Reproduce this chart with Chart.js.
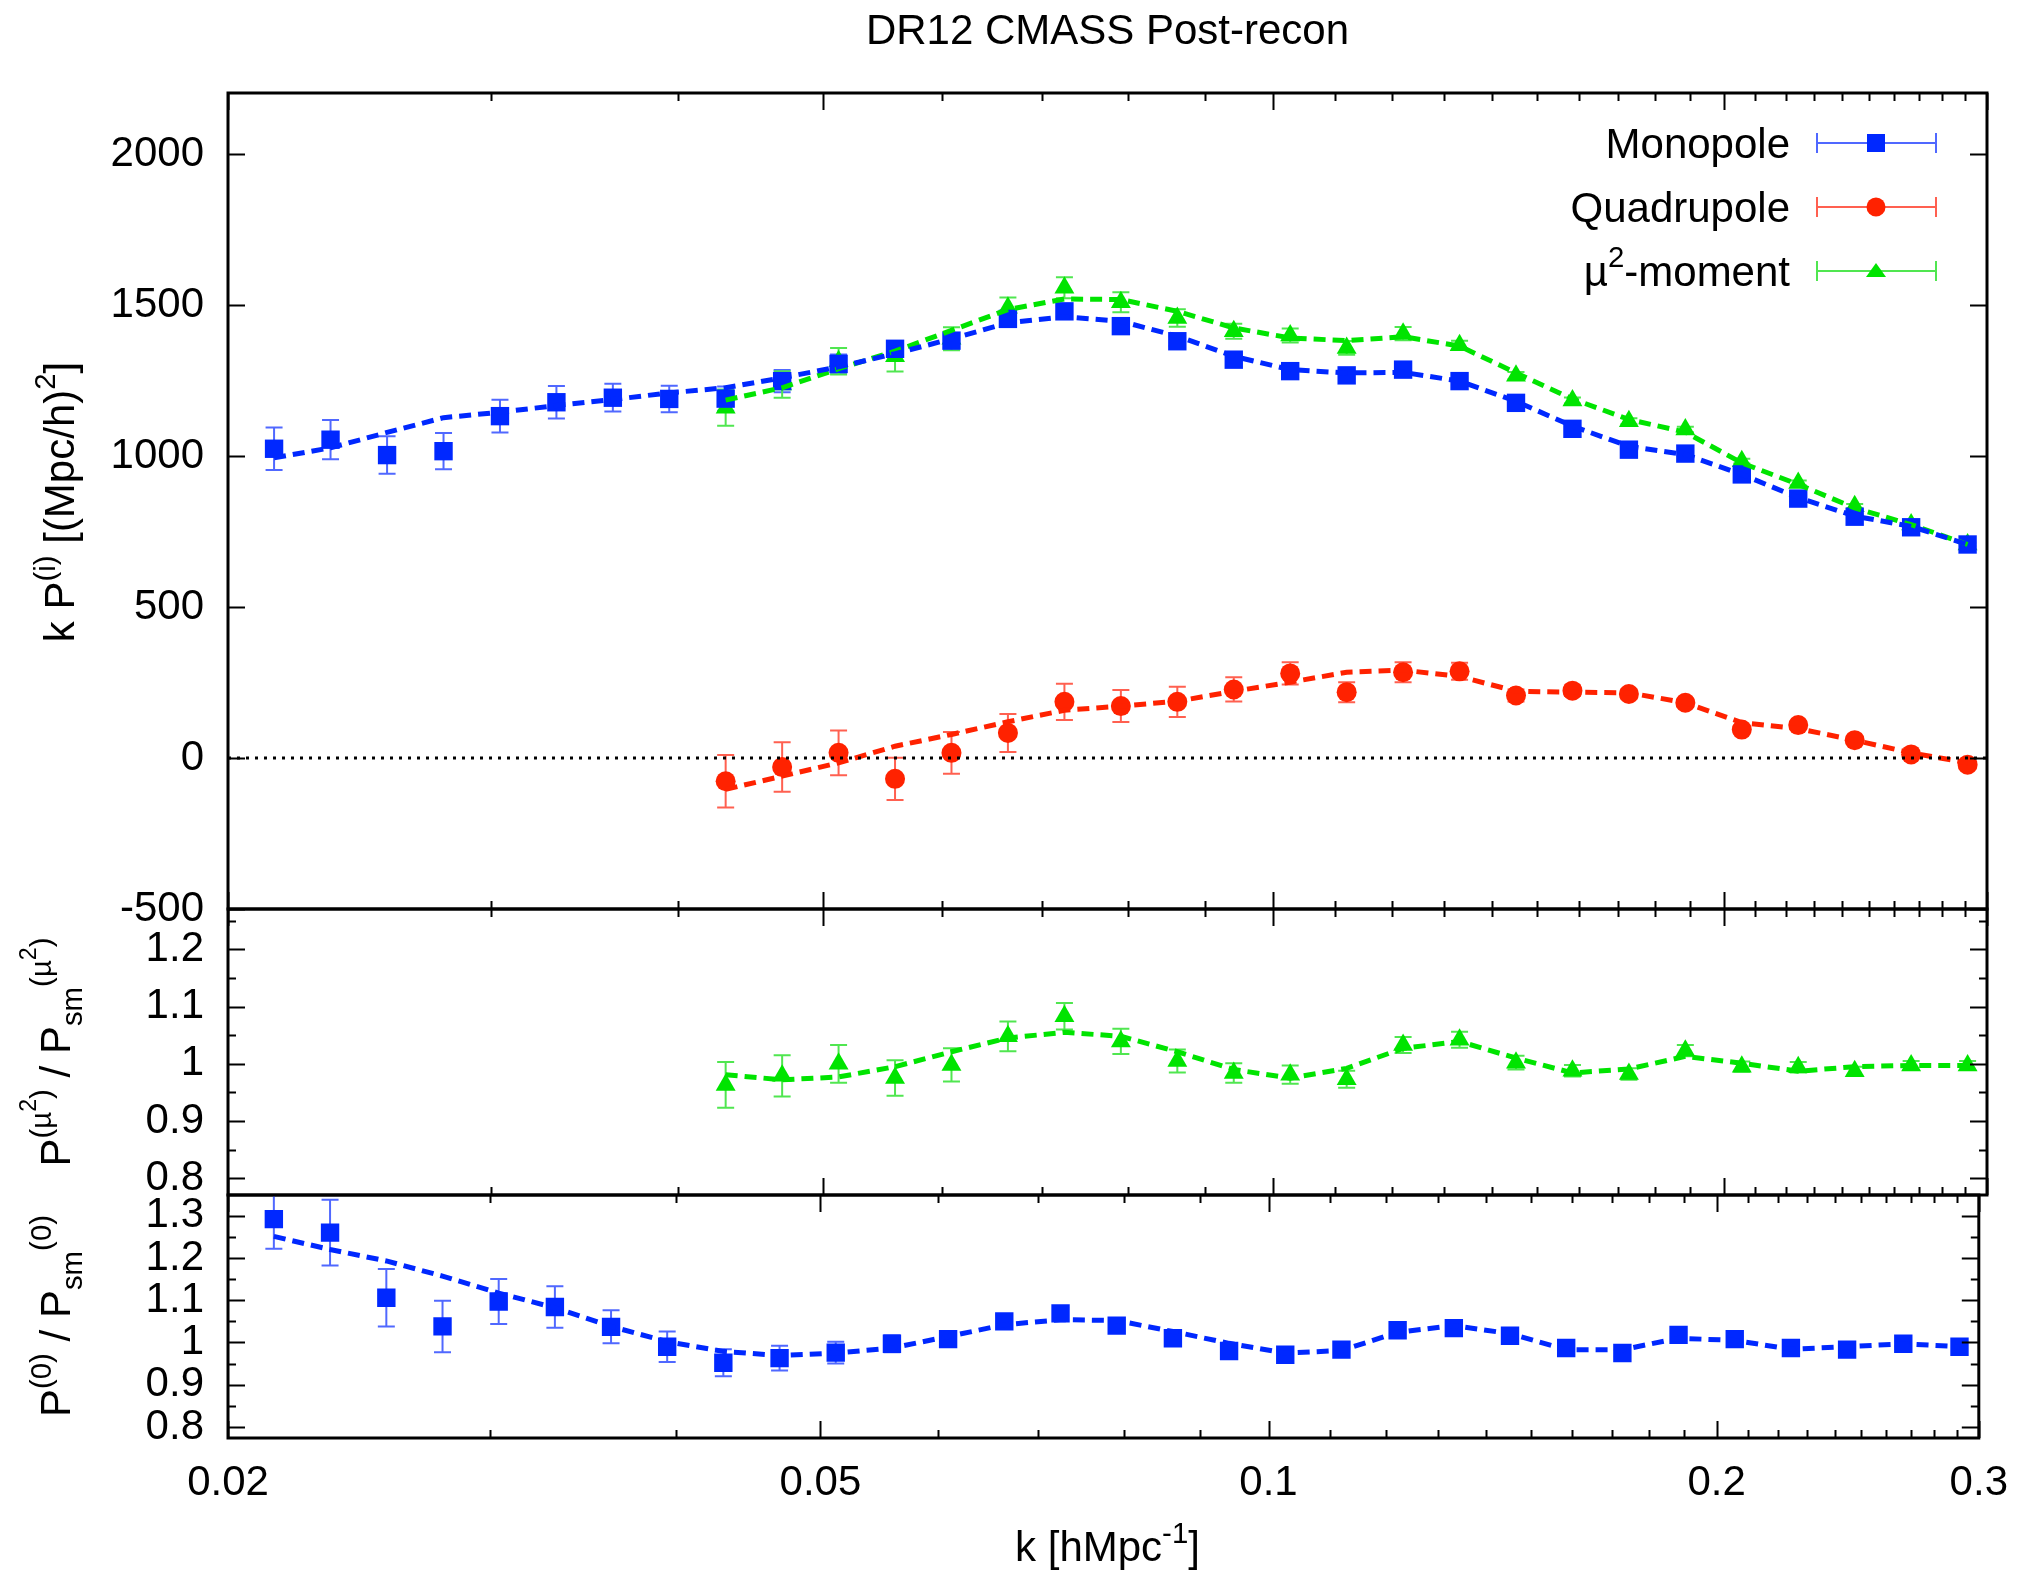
<!DOCTYPE html>
<html>
<head>
<meta charset="utf-8">
<script src="https://cdn.jsdelivr.net/npm/chart.js@4.4.1/dist/chart.umd.min.js"></script>
<style>
html,body{margin:0;padding:0;background:#ffffff;}
#wrap{position:relative;width:2028px;height:1576px;background:#ffffff;}
#wrap canvas{position:absolute;left:0;top:0;}
</style>
</head>
<body>
<div id="wrap">
<canvas id="cTop" width="2028" height="1576"></canvas>
<canvas id="cMid" width="2028" height="1576"></canvas>
<canvas id="cBot" width="2028" height="1576"></canvas>
</div>
<script>
// ---------------- DATA ----------------
const kValues = [0.02147,0.02342,0.02555,0.02787,0.03040,0.03316,0.03617,0.03945,0.04303,0.04694,
  0.05120,0.05585,0.06092,0.06645,0.07249,0.07907,0.08625,0.09408,0.10262,0.11194,
  0.12210,0.13319,0.14528,0.15847,0.17286,0.18855,0.20567,0.22434,0.24471,0.26693,0.29117];
const firstMomentIndex = 8; // quadrupole and mu^2 series start at kValues[8]

const monopole      = [1024,1054,1003,1016,1132,1178,1193,1189,1190,1248,1305,1355,1382,1454,1479,1430,1380,1319,1281,1267,1286,1248,1176,1090,1021,1008,939,859,799,764,707];
const monopoleErr   = [70,65,62,60,54,54,46,44,40,37,31,25,22,20,18,17,16,14,13,12,12,11,10,9,9,8,8,7,7,6,6];
const monopoleModel = [994,1027,1078,1127,1145,1167,1187,1209,1226,1259,1295,1339,1388,1441,1461,1446,1397,1330,1286,1275,1277,1248,1181,1099,1032,1005,939,862,801,767,707];

const quadrupole      = [-77,-30,17,-69,17,83,186,172,186,227,280,218,284,287,207,223,212,183,94,109,59,12,-22];
const quadrupoleErr   = [87,82,74,70,69,63,60,53,50,40,37,33,33,28,20,18,16,14,14,12,10,10,10];
const quadrupoleModel = [-104,-60,-16,39,78,120,158,172,188,221,251,284,291,270,221,218,216,183,117,97,59,17,-16];

const mu2      = [1160,1237,1314,1330,1388,1491,1557,1509,1457,1413,1399,1358,1405,1367,1266,1184,1115,1088,983,911,834,773,707];
const mu2Err   = [60,44,44,50,38,34,35,33,29,25,23,23,22,15,12,10,10,9,8,8,7,7,6];
const mu2Model = [1185,1226,1289,1347,1416,1485,1520,1518,1479,1424,1391,1382,1395,1364,1275,1189,1121,1079,977,906,828,773,707];

const mu2Ratio      = [0.963,0.979,1.000,0.975,0.998,1.048,1.083,1.039,1.005,0.984,0.981,0.973,1.033,1.042,1.002,0.988,0.982,1.023,0.995,0.994,0.987,0.997,0.997];
const mu2RatioErr   = [0.040,0.036,0.033,0.031,0.029,0.026,0.023,0.022,0.020,0.017,0.016,0.015,0.014,0.014,0.012,0.010,0.010,0.010,0.009,0.009,0.008,0.008,0.008];
const mu2RatioModel = [0.981,0.972,0.977,0.995,1.021,1.045,1.055,1.048,1.021,0.990,0.975,0.992,1.027,1.039,1.010,0.984,0.991,1.013,1.001,0.987,0.995,0.997,0.997];

const monoRatio      = [1.292,1.260,1.106,1.038,1.097,1.084,1.037,0.990,0.952,0.963,0.976,0.997,1.008,1.050,1.069,1.040,1.010,0.980,0.971,0.983,1.029,1.034,1.016,0.987,0.975,1.018,1.008,0.987,0.983,0.997,0.990];
const monoRatioErr   = [0.070,0.078,0.068,0.061,0.053,0.049,0.039,0.036,0.032,0.029,0.026,0.020,0.018,0.015,0.014,0.013,0.012,0.011,0.010,0.010,0.009,0.009,0.008,0.008,0.008,0.007,0.007,0.007,0.006,0.006,0.006];
const monoRatioModel = [1.251,1.220,1.193,1.157,1.117,1.082,1.038,1.002,0.979,0.969,0.975,0.987,1.014,1.042,1.054,1.052,1.026,0.998,0.975,0.981,1.024,1.040,1.021,0.983,0.983,1.010,1.005,0.984,0.990,0.997,0.990];

// ---------------- TICKS ----------------
const xMajorTicks  = [0.02,0.05,0.1,0.2,0.3];
const xMajorLabels = ['0.02','0.05','0.1','0.2','0.3'];
const xMinorTicks  = [0.03,0.04,0.06,0.07,0.08,0.09,0.11,0.12,0.13,0.14,0.15,0.16,0.17,0.18,0.19,0.21,0.22,0.23,0.24,0.25,0.26,0.27,0.28,0.29];
const topYTicks  = [-500,0,500,1000,1500,2000];
const topYLabels = ['-500','0','500','1000','1500','2000'];
const midYTicks  = [0.8,0.9,1.0,1.1,1.2];
const midYLabels = ['0.8','0.9','1','1.1','1.2'];
const midYMinor  = [0.85,0.95,1.05,1.15,1.25];
const botYTicks  = [0.8,0.9,1.0,1.1,1.2,1.3];
const botYLabels = ['0.8','0.9','1','1.1','1.2','1.3'];
const botYMinor  = [0.85,0.95,1.05,1.15,1.25];

// ---------------- STYLE ----------------
const FONT = '"Liberation Sans", Arial, Helvetica, sans-serif';
const FS = 42;
const BLUE = '#0028ff', RED = '#ff2200', GREEN = '#00e400';
const BLUE_E = '#5068ff', RED_E = '#ff6050', GREEN_E = '#50e650';
const CW = 2028, CH = 1576;
const PLOT_L = 228, PLOT_R = 1987;

const pts = (ks, ys) => ys.map((y, i) => ({x: ks[i], y: y}));
const kMoments = kValues.slice(firstMomentIndex);

function modelSet(ks, ys, color) {
  return {data: pts(ks, ys), showLine: true, borderColor: color, borderWidth: 5,
    borderDash: [12, 7], pointRadius: 0, pointHoverRadius: 0, fill: false, tension: 0};
}
function dataSet(ks, ys, color, style, r, errs, ecolor) {
  return {data: pts(ks, ys), showLine: false, pointStyle: style, pointRadius: r,
    pointHoverRadius: r, backgroundColor: color, borderColor: color, pointBorderWidth: 0,
    errors: errs, errColor: ecolor};
}

const errorBarPlugin = {
  id: 'errorBars',
  beforeDatasetsDraw(chart) {
    const ctx = chart.ctx, ca = chart.chartArea, ys = chart.scales.y;
    ctx.save();
    ctx.beginPath(); ctx.rect(ca.left, ca.top, ca.right - ca.left, ca.bottom - ca.top); ctx.clip();
    chart.data.datasets.forEach((ds, di) => {
      if (!ds.errors) return;
      const meta = chart.getDatasetMeta(di);
      ctx.strokeStyle = ds.errColor; ctx.lineWidth = 2;
      meta.data.forEach((el, j) => {
        const v = ds.data[j].y, e = ds.errors[j];
        const x = el.x, y1 = ys.getPixelForValue(v - e), y2 = ys.getPixelForValue(v + e);
        ctx.beginPath();
        ctx.moveTo(x, y1); ctx.lineTo(x, y2);
        ctx.moveTo(x - 8.5, y1); ctx.lineTo(x + 8.5, y1);
        ctx.moveTo(x - 8.5, y2); ctx.lineTo(x + 8.5, y2);
        ctx.stroke();
      });
    });
    ctx.restore();
  }
};

const framePlugin = {
  id: 'frameTicks',
  afterDraw(chart, args, opts) {
    const ctx = chart.ctx, ca = chart.chartArea, xs = chart.scales.x, ys = chart.scales.y;
    ctx.save();
    ctx.strokeStyle = '#000'; ctx.lineWidth = 2;
    ctx.beginPath();
    const xt = (vals, len) => vals.forEach(v => {
      const x = Math.round(xs.getPixelForValue(v)) + 0.5;
      ctx.moveTo(x, ca.top); ctx.lineTo(x, ca.top + len);
      ctx.moveTo(x, ca.bottom); ctx.lineTo(x, ca.bottom - len);
    });
    const yt = (vals, len) => vals.forEach(v => {
      const y = Math.round(ys.getPixelForValue(v)) + 0.5;
      ctx.moveTo(ca.left, y); ctx.lineTo(ca.left + len, y);
      ctx.moveTo(ca.right, y); ctx.lineTo(ca.right - len, y);
    });
    xt(xMajorTicks, 17); xt(xMinorTicks, 8);
    yt(opts.major || [], 17); yt(opts.minor || [], 8);
    ctx.stroke();
    if (opts.zeroLine) {
      const y0 = ys.getPixelForValue(0);
      ctx.beginPath(); ctx.setLineDash([3, 6]); ctx.lineWidth = 3;
      ctx.moveTo(ca.left, y0); ctx.lineTo(ca.right, y0); ctx.stroke(); ctx.setLineDash([]);
    }
    ctx.lineWidth = 3;
    ctx.strokeRect(ca.left, ca.top, ca.right - ca.left, ca.bottom - ca.top);
    ctx.restore();
  }
};

function makeOptions(cfg) {
  return {
    responsive: false, animation: false, devicePixelRatio: 1,
    layout: {padding: {left: 0, right: CW - PLOT_R, top: cfg.top, bottom: cfg.bottomPad}},
    plugins: {legend: {display: false}, tooltip: {enabled: false}, title: {display: false},
      frameTicks: {major: cfg.yTicks, minor: cfg.yMinor || [], zeroLine: !!cfg.zeroLine}},
    scales: {
      x: {type: 'logarithmic', min: 0.02, max: 0.3, display: cfg.showX, position: 'bottom',
        grid: {display: false, drawTicks: false}, border: {display: false},
        afterBuildTicks: s => { s.ticks = xMajorTicks.map(v => ({value: v, major: false})); },
        afterFit: s => { s.height = cfg.showX ? 100 : 0; },
        ticks: {autoSkip: false, maxRotation: 0, minRotation: 0, padding: 20, color: '#000',
          font: {family: FONT, size: FS}, callback: (v, i) => xMajorLabels[i]}},
      y: {type: 'linear', min: cfg.yMin, max: cfg.yMax, position: 'left',
        grid: {display: false, drawTicks: false}, border: {display: false},
        afterBuildTicks: s => { s.ticks = cfg.yTicks.map(v => ({value: v})); },
        afterFit: s => { s.width = PLOT_L; },
        ticks: {autoSkip: false, padding: 24, color: '#000',
          font: {family: FONT, size: FS}, callback: (v, i) => cfg.yLabels[i]}}
    }
  };
}

// ---------------- rich text helper ----------------
function richText(ctx, segs, x, y, angle, align) {
  ctx.save(); ctx.translate(x, y); ctx.rotate(angle);
  ctx.textBaseline = 'alphabetic'; ctx.fillStyle = '#000';
  const widths = segs.map(s => { ctx.font = (FS * s[1]) + 'px ' + FONT; return ctx.measureText(s[0]).width; });
  const total = widths.reduce((a, b) => a + b, 0);
  let cx = align === 'center' ? -total / 2 : (align === 'right' ? -total : 0);
  segs.forEach((s, i) => {
    ctx.font = (FS * s[1]) + 'px ' + FONT;
    ctx.fillText(s[0], cx, -s[2] * FS);
    cx += widths[i];
  });
  ctx.restore();
}

function marker(ctx, style, x, y, color) {
  ctx.fillStyle = color; ctx.beginPath();
  if (style === 'rect') { ctx.rect(x - 9, y - 9, 18, 18); }
  else if (style === 'circle') { ctx.arc(x, y, 9.5, 0, Math.PI * 2); }
  else { ctx.moveTo(x, y - 8); ctx.lineTo(x + 10, y + 6); ctx.lineTo(x - 10, y + 6); ctx.closePath(); }
  ctx.fill();
}

const textPlugin = {
  id: 'texts',
  afterDraw(chart) {
    const ctx = chart.ctx;
    // title
    richText(ctx, [['DR12 CMASS Post-recon', 1, 0]], (PLOT_L + PLOT_R) / 2, 44, 0, 'center');
    // x title
    richText(ctx, [['k [hMpc', 1, 0], ['-1', 0.7, 0.42], [']', 1, 0]], (PLOT_L + PLOT_R) / 2, 1561, 0, 'center');
    // y titles
    richText(ctx, [['k P', 1, 0], ['(i)', 0.7, 0.45], [' [(Mpc/h)', 1, 0], ['2', 0.7, 0.45], [']', 1, 0]],
      74, 502, -Math.PI / 2, 'center');
    richText(ctx, [['P', 1, 0], ['(\u00b5', 0.7, 0.45], ['2', 0.55, 0.8], [')', 0.7, 0.45], [' / P', 1, 0],
      ['sm', 0.7, -0.28], ['(\u00b5', 0.7, 0.45], ['2', 0.55, 0.8], [')', 0.7, 0.45]],
      70, 1052, -Math.PI / 2, 'center');
    richText(ctx, [['P', 1, 0], ['(0)', 0.7, 0.45], [' / P', 1, 0], ['sm', 0.7, -0.28], ['(0)', 0.7, 0.45]],
      70, 1316, -Math.PI / 2, 'center');
    // legend
    const rows = [
      {segs: [['Monopole', 1, 0]], y: 143, c: BLUE, e: BLUE_E, s: 'rect'},
      {segs: [['Quadrupole', 1, 0]], y: 207, c: RED, e: RED_E, s: 'circle'},
      {segs: [['\u00b5', 1, 0], ['2', 0.7, 0.45], ['-moment', 1, 0]], y: 271, c: GREEN, e: GREEN_E, s: 'tri'}
    ];
    rows.forEach(r => {
      richText(ctx, r.segs, 1790, r.y + 15, 0, 'right');
      ctx.save(); ctx.strokeStyle = r.e; ctx.lineWidth = 2; ctx.beginPath();
      ctx.moveTo(1817, r.y); ctx.lineTo(1936, r.y);
      ctx.moveTo(1817, r.y - 10); ctx.lineTo(1817, r.y + 10);
      ctx.moveTo(1936, r.y - 10); ctx.lineTo(1936, r.y + 10);
      ctx.stroke();
      marker(ctx, r.s, 1876, r.y, r.c);
      ctx.restore();
    });
  }
};

// ---------------- CHARTS ----------------
new Chart(document.getElementById('cTop'), {
  type: 'scatter',
  data: {datasets: [
    modelSet(kValues, monopoleModel, BLUE),
    modelSet(kMoments, mu2Model, GREEN),
    modelSet(kMoments, quadrupoleModel, RED),
    dataSet(kValues, monopole, BLUE, 'rect', 13, monopoleErr, BLUE_E),
    dataSet(kMoments, mu2, GREEN, 'triangle', 11.5, mu2Err, GREEN_E),
    dataSet(kMoments, quadrupole, RED, 'circle', 10, quadrupoleErr, RED_E)
  ]},
  options: makeOptions({top: 93, bottomPad: CH - 909, showX: false, yMin: -500, yMax: 2202,
    yTicks: topYTicks, yLabels: topYLabels, zeroLine: true}),
  plugins: [errorBarPlugin, framePlugin, textPlugin]
});

new Chart(document.getElementById('cMid'), {
  type: 'scatter',
  data: {datasets: [
    modelSet(kMoments, mu2RatioModel, GREEN),
    dataSet(kMoments, mu2Ratio, GREEN, 'triangle', 11.5, mu2RatioErr, GREEN_E)
  ]},
  options: makeOptions({top: 909, bottomPad: CH - 1195, showX: false, yMin: 0.7708, yMax: 1.2704,
    yTicks: midYTicks, yLabels: midYLabels, yMinor: midYMinor}),
  plugins: [errorBarPlugin, framePlugin]
});

new Chart(document.getElementById('cBot'), {
  type: 'scatter',
  data: {datasets: [
    modelSet(kValues, monoRatioModel, BLUE),
    dataSet(kValues, monoRatio, BLUE, 'rect', 13, monoRatioErr, BLUE_E)
  ]},
  options: makeOptions({top: 1195, bottomPad: CH - 1438 - 100, showX: true, yMin: 0.774, yMax: 1.349,
    yTicks: botYTicks, yLabels: botYLabels, yMinor: botYMinor}),
  plugins: [errorBarPlugin, framePlugin]
});
</script>
</body>
</html>
